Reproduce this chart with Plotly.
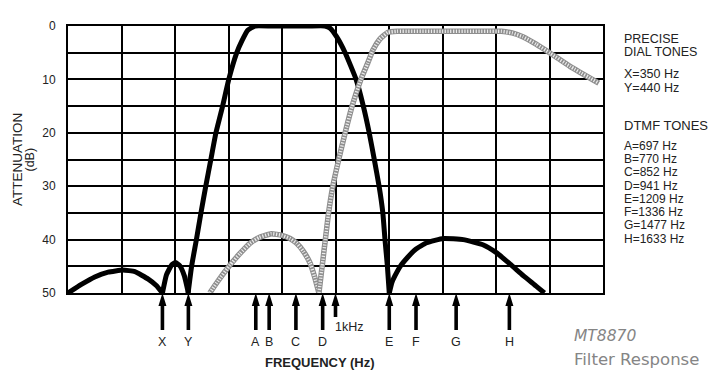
import plotly.graph_objects as go

# ---------------- data (frequency in Hz, attenuation in dB) ----------------
low_lobe1_f = [0, 50, 100, 150, 205, 250, 300, 330, 353]
low_lobe1_db = [50, 48.4, 47.0, 46.1, 45.7, 46.0, 47.4, 48.6, 50]

low_lobe2_f = [353, 368, 388, 402, 418, 435, 450]
low_lobe2_db = [50, 46.6, 44.7, 44.3, 44.9, 46.8, 50]

low_pass_f = [449, 462, 480, 497, 515, 534, 553, 578, 601, 631, 650, 672, 699,
              760, 830, 900, 960, 980, 1004, 1036, 1077, 1104, 1126, 1145,
              1163, 1177, 1185, 1194, 1201]
low_pass_db = [50, 45, 40, 35, 30, 25, 20, 15, 10, 5, 2.8, 0.8, 0,
               0, 0, 0, 0, 0.4, 2, 5, 10, 15, 20, 25,
               30, 35, 40, 45, 50]

low_lobe3_f = [1201, 1211, 1222, 1242, 1270, 1300, 1341, 1403, 1478, 1553, 1600,
               1653, 1703, 1750, 1781]
low_lobe3_db = [50, 48, 46.8, 45, 43.3, 41.8, 40.6, 39.8, 40.0, 41.0, 42.4,
                44.6, 46.8, 48.7, 50]

high_lobe_f = [530, 560, 605, 643, 680, 715, 760, 800, 830, 855, 880, 905, 922, 938]
high_lobe_db = [50, 47.8, 44.8, 42.6, 40.7, 39.6, 38.9, 39.2, 39.8, 40.7, 42.2, 44.4, 47, 50]

high_pass_f = [938, 950, 962, 974, 990, 1012, 1036, 1062, 1095, 1120, 1140,
               1165, 1195, 1230, 1400, 1620, 1660, 1700, 1750, 1803, 1878, 1984]
high_pass_db = [50, 45, 40, 35, 30, 25, 20, 15, 10, 7, 4.5,
                2.5, 1.2, 1.0, 1.0, 1.0, 1.3, 2.0, 3.4, 5.1, 7.6, 10.7]

# tone marker arrows (positions as drawn on the chart, Hz)
arrow_labels = ["X", "Y", "A", "B", "C", "D", "E", "F", "G", "H"]
arrow_pos = [353, 450, 702, 752, 852, 952, 1201, 1301, 1451, 1650]
khz_pos = 1000

y_tick_vals = [0, 5, 10, 15, 20, 25, 30, 35, 40, 45, 50]
y_tick_text = ["0", "", "10", "", "20", "", "30", "", "40", "", "50"]

dial_lines = ["X=350 Hz", "Y=440 Hz"]
dtmf_lines = ["A=697 Hz", "B=770 Hz", "C=852 Hz", "D=941 Hz",
              "E=1209 Hz", "F=1336 Hz", "G=1477 Hz", "H=1633 Hz"]

# ---------------- figure ----------------
FONT = "Arial, Liberation Sans, sans-serif"
L, R, T, B = 68, 603, 26, 293


def px(x):
    return (x - L) / (R - L)


def py(y):
    return (B - y) / (B - T)


fig = go.Figure()

for fx, dy in [(low_lobe1_f, low_lobe1_db), (low_lobe2_f, low_lobe2_db),
               (low_pass_f, low_pass_db), (low_lobe3_f, low_lobe3_db)]:
    fig.add_trace(go.Scatter(x=fx, y=dy, mode="lines", cliponaxis=False,
                             line=dict(color="#000000", width=5, shape="spline", smoothing=0.4),
                             hoverinfo="skip", showlegend=False))

for fx, dy in [(high_lobe_f, high_lobe_db), (high_pass_f, high_pass_db)]:
    fig.add_trace(go.Scatter(x=fx, y=dy, mode="lines", cliponaxis=False,
                             line=dict(color="#8e8e8e", width=5.5, shape="spline", smoothing=0.4),
                             hoverinfo="skip", showlegend=False))
    fig.add_trace(go.Scatter(x=fx, y=dy, mode="lines", cliponaxis=False,
                             line=dict(color="#ececec", width=3.5, shape="spline", smoothing=0.4,
                                       dash="1.2px,1.6px"),
                             hoverinfo="skip", showlegend=False))

shapes = []
annotations = []


def arrow_path(shaft_len):
    return (f"M 0 0 L -4 -13 L -1.8 -13 L -1.8 {-shaft_len} L 1.8 {-shaft_len} "
            f"L 1.8 -13 L 4 -13 Z")


for lab, pos in zip(arrow_labels, arrow_pos):
    shapes.append(dict(type="path", xref="x", yref="paper", xsizemode="pixel", ysizemode="pixel",
                       xanchor=pos, yanchor=0, path=arrow_path(37),
                       fillcolor="#000000", line=dict(width=0)))
    annotations.append(dict(x=pos, y=py(342), xref="x", yref="paper", text=lab,
                            showarrow=False, xanchor="center", yanchor="middle",
                            font=dict(family=FONT, size=12.5, color="#222222")))

shapes.append(dict(type="path", xref="x", yref="paper", xsizemode="pixel", ysizemode="pixel",
                   xanchor=khz_pos, yanchor=0, path=arrow_path(24),
                   fillcolor="#000000", line=dict(width=0)))
annotations.append(dict(x=khz_pos, y=py(326.7), xref="x", yref="paper", xshift=-3,
                        text="1kHz", showarrow=False, xanchor="left", yanchor="middle",
                        font=dict(family=FONT, size=12.5, color="#222222")))

# axis titles
annotations.append(dict(x=px(320), y=py(362), xref="paper", yref="paper",
                        text="<b>FREQUENCY (Hz)</b>",
                        showarrow=False, xanchor="center", yanchor="middle",
                        font=dict(family=FONT, size=13, color="#222222")))
annotations.append(dict(x=px(17), y=py(160), xref="paper", yref="paper", text="ATTENUATION",
                        textangle=-90, showarrow=False, xanchor="center", yanchor="middle",
                        font=dict(family=FONT, size=13.5, color="#222222")))
annotations.append(dict(x=px(29.5), y=py(160), xref="paper", yref="paper", text="(dB)",
                        textangle=-90, showarrow=False, xanchor="center", yanchor="middle",
                        font=dict(family=FONT, size=12.5, color="#222222")))

# right-hand legend text
right_items = [("PRECISE", 38.8, 12.5), ("DIAL TONES", 51.7, 12.5)]
right_items += [(t, yy, 12.5) for t, yy in zip(dial_lines, [74, 88])]
right_items += [("DTMF TONES", 125.8, 13)]
right_items += [(t, 145.8 + i * 13.25, 12) for i, t in enumerate(dtmf_lines)]
for t, yy, fs in right_items:
    annotations.append(dict(x=px(622), y=py(yy), xref="paper", yref="paper", text=t,
                            showarrow=False, xanchor="left", yanchor="middle",
                            font=dict(family=FONT, size=fs, color="#222222")))

annotations.append(dict(x=px(572), y=py(335.5), xref="paper", yref="paper", text="<i>MT8870</i>",
                        showarrow=False, xanchor="left", yanchor="middle",
                        font=dict(family="DejaVu Sans", size=15.5, color="#858585")))
annotations.append(dict(x=px(572), y=py(359), xref="paper", yref="paper", text="Filter Response",
                        showarrow=False, xanchor="left", yanchor="middle",
                        font=dict(family="DejaVu Sans", size=16.5, color="#858585")))

fig.update_layout(
    width=724, height=390,
    margin=dict(l=L, r=724 - R, t=T, b=390 - B, pad=0),
    paper_bgcolor="white", plot_bgcolor="white",
    shapes=shapes, annotations=annotations, showlegend=False,
    xaxis=dict(range=[0, 2000], tick0=0, dtick=200, showticklabels=False, ticks="",
               showgrid=True, gridcolor="#000000", gridwidth=2, zeroline=False,
               showline=True, linecolor="#000000", linewidth=2, mirror=True, fixedrange=True),
    yaxis=dict(range=[50, 0], tickmode="array", tickvals=y_tick_vals, ticktext=y_tick_text,
               ticks="", ticklabelstandoff=8,
               tickfont=dict(family=FONT, size=12, color="#222222"),
               showgrid=True, gridcolor="#000000", gridwidth=2, zeroline=False,
               showline=True, linecolor="#000000", linewidth=2, mirror=True, fixedrange=True),
)

fig.write_html("out.html", config={"displayModeBar": False},
               post_script="document.body.style.margin='0';document.body.style.overflow='hidden';")
